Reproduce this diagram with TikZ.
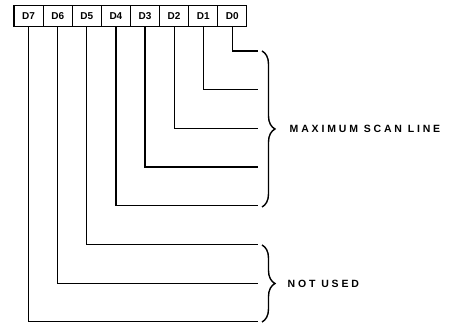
\documentclass[tikz,border=0pt]{standalone}
\usepackage{fontspec}
\setmainfont{Liberation Sans}
\newfontfamily\capsfont[LetterSpace=27]{Liberation Sans}
\usetikzlibrary{positioning,decorations.pathreplacing}

\begin{document}
\begin{tikzpicture}[x=1pt,y=-1pt,line width=1.2pt]
  \tikzstyle{bitbox}=[draw,minimum width=29.1pt,minimum height=21pt,inner sep=0pt,font=\bfseries\fontsize{10}{12}\selectfont]
  \tikzstyle{grp}=[decorate,decoration={brace,amplitude=13pt},line width=1.4pt]
  \tikzstyle{tag}=[font=\capsfont\bfseries\fontsize{10.5}{12}\selectfont,inner sep=0pt]
  \useasboundingbox (0,0) rectangle (461,328);
  % register bits D7 ... D0
  \foreach \i in {7,...,0} {
    \node[bitbox] (d\i) at ({28.6+(7-\i)*29.1},16) {D\i};
    \coordinate (e\i) at (258,{51+\i*38.7});
    \draw (d\i.south) |- (e\i);
  }
  % groups
  \coordinate (g1a) at (262,51);
  \coordinate (g1b) at (262,207);
  \coordinate (g2a) at (262,245);
  \coordinate (g2b) at (262,322);
  \draw[grp] (g1a) -- (g1b) node[midway,right=27pt,tag] (maxscan) {MAXIMUM SCAN LINE};
  \draw[grp] (g2a) -- (g2b) node[midway,right=25pt,tag] (unused) {NOT USED};
\end{tikzpicture}
\end{document}
